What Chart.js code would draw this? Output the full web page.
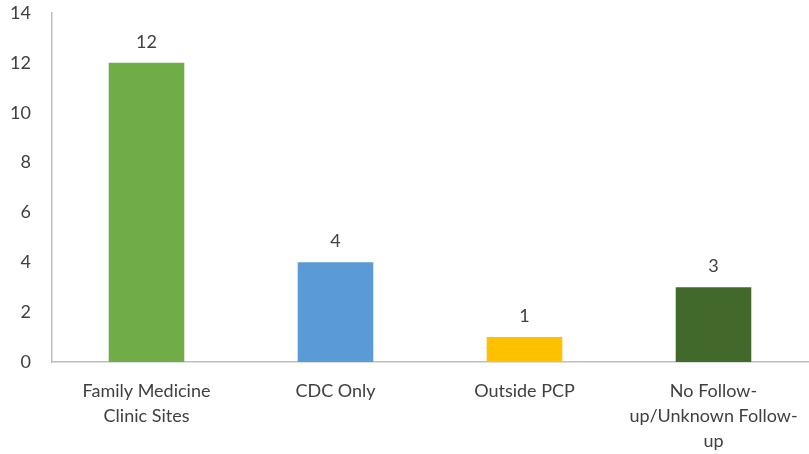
<!DOCTYPE html>
<html>
<head>
<meta charset="utf-8">
<script src="https://cdn.jsdelivr.net/npm/chart.js@4"></script>
<style>
  html, body { margin: 0; padding: 0; background: #fff; }
  #wrap { width: 809px; height: 454px; }
</style>
</head>
<body>
<div id="wrap"><canvas id="chart"></canvas></div>
<script>
// Follow-up location counts
const categories = [
    ['Family Medicine', 'Clinic Sites'],
    'CDC Only',
    'Outside PCP',
    ['No Follow-', 'up/Unknown Follow-', 'up']
];
const counts = [12, 4, 1, 3];
const barColors = ['#70AD47', '#5B9BD5', '#FFC000', '#43682B'];
const yTicks = [0, 2, 4, 6, 8, 10, 12, 14];

const textColor = '#404040';
const fontFamily = 'Lato, "Open Sans", sans-serif';

/**
 * Write the value above each bar
 */
const valueLabels = {
    id: 'valueLabels',
    afterDatasetsDraw(chart) {
        const ctx = chart.ctx;
        const meta = chart.getDatasetMeta(0);
        ctx.save();
        ctx.font = '18px ' + fontFamily;
        ctx.fillStyle = textColor;
        ctx.textAlign = 'center';
        ctx.textBaseline = 'middle';
        meta.data.forEach((bar, i) => {
            ctx.fillText(String(counts[i]), bar.x, bar.y - 21);
        });
        ctx.restore();
    }
};

new Chart(document.getElementById('chart'), {
    type: 'bar',
    data: {
        labels: categories,
        datasets: [{
            data: counts,
            backgroundColor: barColors,
            barPercentage: 0.4,
            categoryPercentage: 1
        }]
    },
    options: {
        responsive: true,
        maintainAspectRatio: false,
        animation: false,
        layout: { padding: { top: 13, right: 1 } },
        plugins: {
            legend: { display: false },
            tooltip: { enabled: false }
        },
        scales: {
            x: {
                grid: { display: false },
                border: { color: '#BFBFBF', width: 1.5 },
                ticks: {
                    color: textColor,
                    font: { family: fontFamily, size: 18, lineHeight: 1.38 },
                    padding: 9,
                    maxRotation: 0,
                    autoSkip: false
                },
                afterFit(scale) { scale.height = 92; }
            },
            y: {
                min: 0,
                max: 14,
                grid: { display: false },
                border: { color: '#BFBFBF', width: 1.5 },
                afterBuildTicks(scale) {
                    scale.ticks = yTicks.map(v => ({ value: v }));
                },
                ticks: {
                    color: textColor,
                    font: { family: fontFamily, size: 18 },
                    padding: 13
                },
                afterFit(scale) {
                    scale.width = 52;
                    scale.paddingTop = 0;
                }
            }
        }
    },
    plugins: [valueLabels]
});
</script>
</body>
</html>
